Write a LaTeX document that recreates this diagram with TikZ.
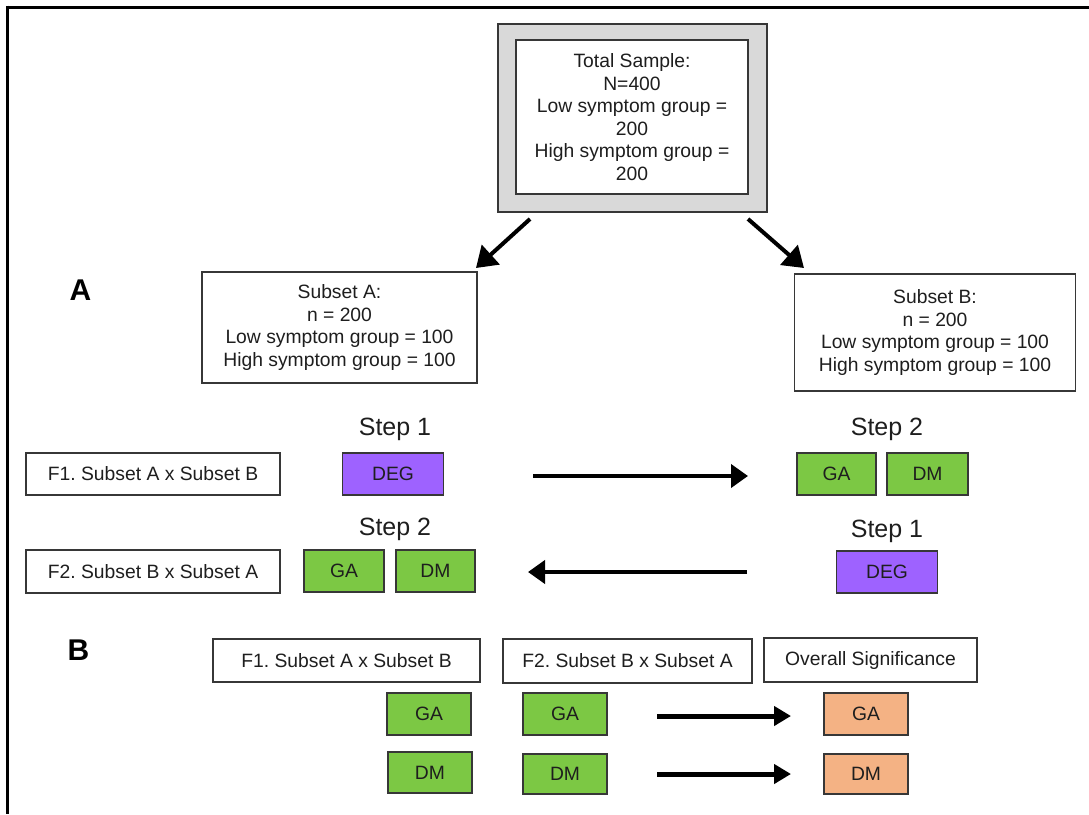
\documentclass[tikz,border=0pt]{standalone}
\usepackage{fontspec}
\setmainfont{Liberation Sans}
\usetikzlibrary{arrows.meta}
\frenchspacing
\definecolor{degpurple}{RGB}{158,98,255}
\definecolor{gagreen}{RGB}{124,200,68}
\definecolor{sigorange}{RGB}{244,178,132}
\definecolor{boxgray}{RGB}{217,217,217}
\definecolor{edgec}{RGB}{55,55,55}
\definecolor{txt}{RGB}{30,30,30}
\begin{document}
\begin{tikzpicture}[x=1pt,y=-1pt,
  base/.style={draw=edgec,line width=1.3pt,inner sep=0pt,align=center,text=txt,
    font=\fontsize{19.3}{22.5}\selectfont},
  whitebox/.style={base,fill=white},
  purplebox/.style={base,fill=degpurple,minimum width=101pt,minimum height=42pt},
  greenbox/.style={base,fill=gagreen,minimum height=42pt},
  orangebox/.style={base,fill=sigorange,minimum width=84pt,minimum height=41pt},
  steplabel/.style={inner sep=0pt,text=txt,font=\fontsize{25}{28}\selectfont},
  panel/.style={inner sep=0pt,font=\fontsize{30}{34}\selectfont\bfseries},
  bigarrow/.style={line width=4pt,-{Triangle[length=17pt,width=23pt]}},
  diagarrow/.style={line width=4pt,-{Triangle[length=20pt,width=26pt]}},
  botarrow/.style={line width=5pt,-{Triangle[length=17pt,width=19pt]}}]
\useasboundingbox (0,0) rectangle (1089,814);
% frame lines
\draw[line width=3pt] (7,7) -- (1089,7);
\draw[line width=3pt] (7.5,5.5) -- (7.5,814);
% total sample
\node[base,fill=boxgray,line width=2pt,minimum width=269pt,minimum height=188pt] (outer) at (632.5,118) {};
\node[whitebox,minimum width=232pt,minimum height=154pt] (total) at (632,117)
  {Total Sample:\\N=400\\Low symptom group =\\200\\High symptom group =\\200};
% subsets
\node[whitebox,minimum width=275pt,minimum height=111pt] (subA) at (339.5,327.5)
  {Subset A:\\n = 200\\Low symptom group = 100\\High symptom group = 100};
\node[whitebox,minimum width=281pt,minimum height=117pt] (subB) at (935,332.5)
  {Subset B:\\n = 200\\Low symptom group = 100\\High symptom group = 100};
\coordinate (dA1) at (530,219);
\coordinate (dA2) at (476,268);
\coordinate (dB1) at (748,219);
\coordinate (dB2) at (804,268);
\draw[diagarrow] (dA1) -- (dA2);
\draw[diagarrow] (dB1) -- (dB2);
% panel labels
\node[panel] (labA) at (80.5,290) {A};
\node[panel] (labB) at (78.5,650) {B};
% panel A rows
\node[whitebox,minimum width=254pt,minimum height=42pt] (f1a) at (153,474) {F1. Subset A x Subset B};
\node[whitebox,minimum width=254pt,minimum height=43pt] (f2a) at (153,571.5) {F2. Subset B x Subset A};
\node[steplabel] (s1l) at (395,429) {Step 1};
\node[purplebox] (deg1) at (393,474) {DEG};
\node[steplabel] (s2l) at (395,529) {Step 2};
\node[greenbox,minimum width=80pt] (ga1) at (344,571) {GA};
\node[greenbox,minimum width=79pt] (dm1) at (435.5,571) {DM};
\node[steplabel] (s2r) at (887,429) {Step 2};
\node[greenbox,minimum width=79pt] (ga2) at (836.5,474) {GA};
\node[greenbox,minimum width=81pt] (dm2) at (927.5,474) {DM};
\node[steplabel] (s1r) at (887,531) {Step 1};
\node[purplebox] (deg2) at (887,572) {DEG};
\coordinate (h1a) at (533,476);
\coordinate (h1b) at (748,476);
\coordinate (h2a) at (747,572);
\coordinate (h2b) at (528,572);
\draw[bigarrow] (h1a) -- (h1b);
\draw[bigarrow] (h2a) -- (h2b);
% panel B
\node[whitebox,minimum width=267pt,minimum height=43pt] (bf1) at (346.5,660.5) {F1. Subset A x Subset B};
\node[whitebox,minimum width=249pt,minimum height=44pt] (bf2) at (627.5,661) {F2. Subset B x Subset A};
\node[whitebox,minimum width=213pt,minimum height=44pt] (ov) at (870.5,660) {Overall Significance};
\node[greenbox,minimum width=84pt] (bga1) at (429,714) {GA};
\node[greenbox,minimum width=84pt,minimum height=41pt] (bdm1) at (430,772.5) {DM};
\node[greenbox,minimum width=84pt] (bga2) at (565,714) {GA};
\node[greenbox,minimum width=84pt,minimum height=40pt] (bdm2) at (565,774) {DM};
\node[orangebox,minimum height=42pt] (oga) at (866,714) {GA};
\node[orangebox,minimum height=40pt] (odm) at (866,774) {DM};
\coordinate (b1a) at (657,716);
\coordinate (b1b) at (791,716);
\coordinate (b2a) at (657,774);
\coordinate (b2b) at (791,774);
\draw[botarrow] (b1a) -- (b1b);
\draw[botarrow] (b2a) -- (b2b);
\end{tikzpicture}
\end{document}
